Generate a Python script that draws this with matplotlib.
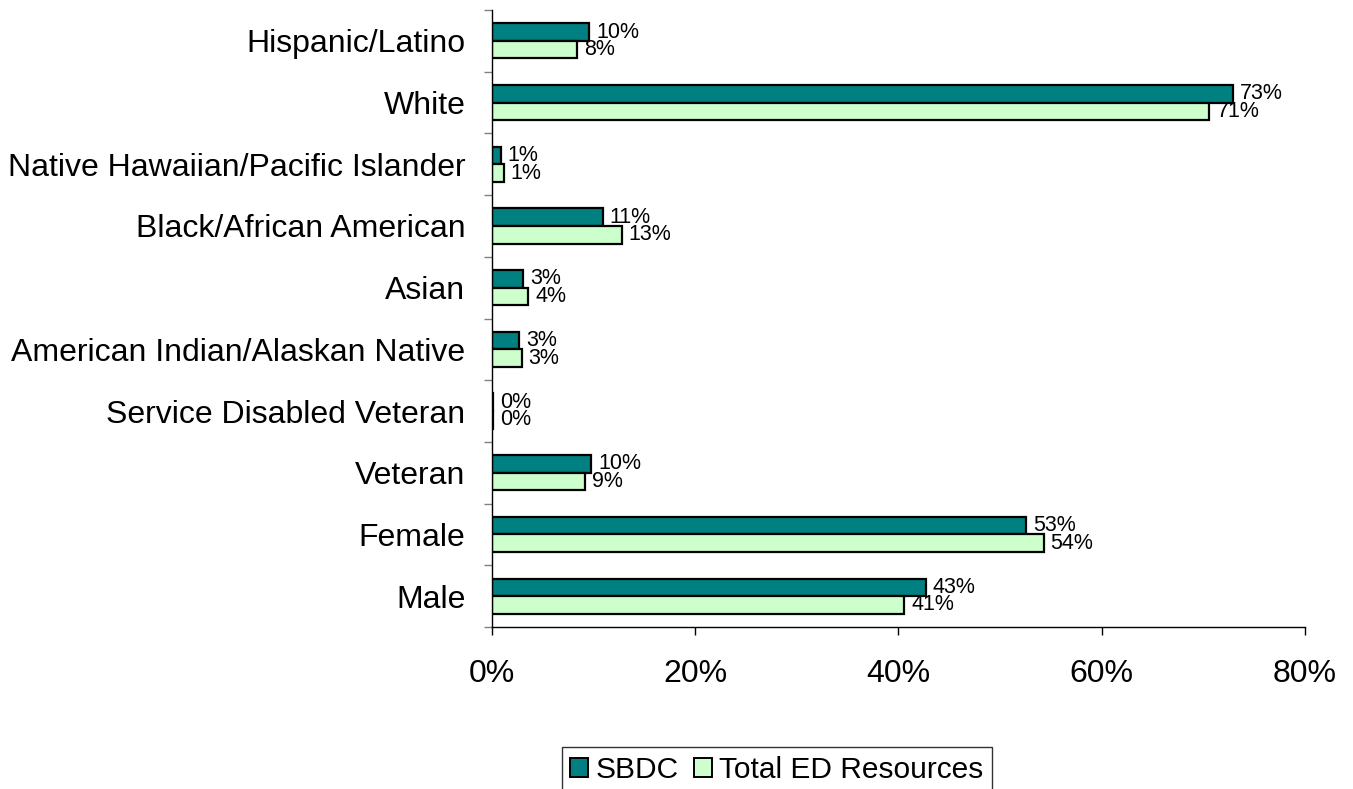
import matplotlib.pyplot as plt
import numpy as np
from matplotlib.patches import Patch

plt.rcParams['font.family'] = ['Liberation Sans', 'DejaVu Sans']

# categories listed bottom to top
categories = ["Male", "Female", "Veteran", "Service Disabled Veteran",
              "American Indian/Alaskan Native", "Asian", "Black/African American",
              "Native Hawaiian/Pacific Islander", "White", "Hispanic/Latino"]
sbdc = [42.7, 52.6, 9.8, 0.1, 2.7, 3.1, 10.9, 0.9, 72.9, 9.6]
total_ed = [40.6, 54.3, 9.2, 0.15, 2.95, 3.6, 12.8, 1.2, 70.6, 8.4]
series_names = ["SBDC", "Total ED Resources"]
x_ticks = [0, 20, 40, 60, 80]

teal = '#008080'
pale = '#CCFFCC'

fig = plt.figure(figsize=(13.53, 7.89), dpi=100)
ax = fig.add_axes([491.7 / 1353, 1 - 627 / 789, (1305 - 491.7) / 1353, (627 - 10) / 789])

y = np.arange(len(categories))
h = 0.285
ax.barh(y + h / 2, sbdc, height=h, color=teal, edgecolor='black', linewidth=1.6)
ax.barh(y - h / 2, total_ed, height=h, color=pale, edgecolor='black', linewidth=1.6)

# value labels
for yi, v in zip(y, sbdc):
    ax.annotate(f"{v:.0f}%", (v, yi + h / 2), xytext=(5, 0), textcoords='offset points',
                va='center', ha='left', fontsize=15.5)
for yi, v in zip(y, total_ed):
    ax.annotate(f"{v:.0f}%", (v, yi - h / 2), xytext=(5, 0), textcoords='offset points',
                va='center', ha='left', fontsize=15.5)

ax.set_xlim(0, 80)
ax.set_ylim(-0.5, len(categories) - 0.5)
ax.set_xticks(x_ticks)
ax.set_xticklabels([f"{t}%" for t in x_ticks], fontsize=23)
ax.tick_params(axis='x', direction='out', length=6, width=1, pad=17, color='black')

ax.set_yticks(y)
ax.set_yticklabels(categories, fontsize=23)
ax.set_yticks(np.arange(-0.5, len(categories)), minor=True)
ax.tick_params(axis='y', which='major', length=0, pad=19)
ax.tick_params(axis='y', which='minor', length=6, width=1, color='#808080')

for s in ['top', 'right']:
    ax.spines[s].set_visible(False)
for s in ['left', 'bottom']:
    ax.spines[s].set_linewidth(1)
    ax.spines[s].set_color('black')

handles = [Patch(facecolor=teal, edgecolor='black', linewidth=1.4),
           Patch(facecolor=pale, edgecolor='black', linewidth=1.4)]
leg = fig.legend(handles, series_names, loc='upper center', bbox_to_anchor=(777 / 1353, 1 - 747 / 789),
                 ncol=2, fontsize=21.5, frameon=True, fancybox=False, edgecolor='black',
                 handlelength=0.6, handleheight=0.6, handletextpad=0.25, columnspacing=0.5,
                 borderpad=0.3, borderaxespad=0)
leg.get_frame().set_linewidth(1)

fig.savefig('out.png', dpi=100)
